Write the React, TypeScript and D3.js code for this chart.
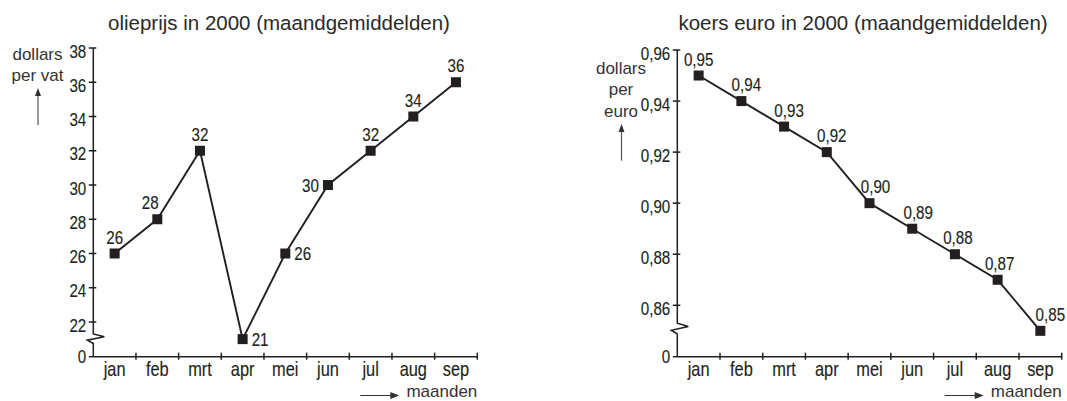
import React from "react";
import * as d3 from "d3";

const months = ["jan", "feb", "mrt", "apr", "mei", "jun", "jul", "aug", "sep"];
const oilPrices = [26, 28, 32, 21, 26, 30, 32, 34, 36];
const euroRates = [0.95, 0.94, 0.93, 0.92, 0.9, 0.89, 0.88, 0.87, 0.85];
const oilTicks = [22, 24, 26, 28, 30, 32, 34, 36, 38];
const euroTicks = [0.86, 0.88, 0.9, 0.92, 0.94, 0.96];
const oilTitle = "olieprijs in 2000 (maandgemiddelden)";
const euroTitle = "koers euro in 2000 (maandgemiddelden)";
const oilUnit = ["dollars", "per vat"];
const euroUnit = ["dollars", "per", "euro"];
const xTitle = "maanden";

const INK = "#231f20";
const REGULAR = "'Liberation Sans', Arial, sans-serif";
const SQUEEZE = 0.82;

type Side = "top" | "left" | "right";

function NarrowText(props: {
  x: number;
  y: number;
  size: number;
  anchor?: "start" | "middle" | "end";
  dy?: string;
  children: React.ReactNode;
}) {
  return (
    <text
      transform={`translate(${props.x},${props.y}) scale(${SQUEEZE},1)`}
      dy={props.dy}
      textAnchor={props.anchor || "middle"}
      fontFamily={REGULAR}
      fontSize={props.size}
      fill={INK}
      stroke={INK}
      strokeWidth={0.15}
    >
      {props.children}
    </text>
  );
}

interface PanelProps {
  values: number[];
  ticks: number[];
  fmt: (v: number) => string;
  x0: number;
  x1: number;
  yDomain: [number, number];
  yRange: [number, number];
  zeroY: number;
  breakTop: number;
  breakBottom: number;
  title: string;
  titleX: number;
  unit: string[];
  unitX: number;
  unitY0: number;
  unitArrow: [number, number];
  sides: Side[];
  dxs: number[];
}

function Panel(p: PanelProps) {
  const x = d3.scaleBand<string>().domain(months).range([p.x0, p.x1]).padding(0);
  const y = d3.scaleLinear().domain(p.yDomain).range(p.yRange);
  const cx = (m: string) => (x(m) as number) + x.bandwidth() / 2;
  const line = d3
    .line<number>()
    .x((_, i) => cx(months[i]))
    .y((d) => y(d));
  const topY = y(p.ticks[p.ticks.length - 1]);
  const bt = p.breakTop;
  const bb = p.breakBottom;
  const bh = bb - bt;
  const axisPath =
    `M${p.x0},${topY}V${bt}` +
    `L${p.x0 + 11},${bt + bh * 0.3}L${p.x0 - 6},${bt + bh * 0.65}L${p.x0},${bb}V${p.zeroY}`;
  const boundaries = d3.range(1, months.length + 1).map((i) => p.x0 + i * x.bandwidth());
  const endX = p.x1;
  return (
    <g>
      <text x={p.titleX} y={30} textAnchor="middle" fontFamily={REGULAR} fontSize={20.5} fill="#2a2a2a">
        {p.title}
      </text>
      {p.unit.map((u, i) => (
        <text key={u} x={p.unitX} y={p.unitY0 + i * 21.7} textAnchor="middle" fontFamily={REGULAR} fontSize={17} fill="#333">
          {u}
        </text>
      ))}
      <line x1={p.unitX + 0.5} x2={p.unitX + 0.5} y1={p.unitArrow[0]} y2={p.unitArrow[1] + 6} stroke="#555" strokeWidth={1.2} />
      <path d={`M${p.unitX + 0.5},${p.unitArrow[1]}l-3,8h6z`} fill="#333" />
      <path d={axisPath} fill="none" stroke={INK} strokeWidth={1.5} />
      <line x1={p.x0} x2={endX} y1={p.zeroY} y2={p.zeroY} stroke={INK} strokeWidth={1.5} />
      {p.ticks.map((t) => (
        <g key={t}>
          <line x1={p.x0 - 4.5} x2={p.x0 + 3} y1={y(t)} y2={y(t)} stroke={INK} strokeWidth={1.5} />
          <NarrowText x={p.x0 - 7} y={y(t)} dy="0.52em" anchor="end" size={18.5}>
            {p.fmt(t)}
          </NarrowText>
        </g>
      ))}
      <line x1={p.x0 - 4.5} x2={p.x0} y1={p.zeroY} y2={p.zeroY} stroke={INK} strokeWidth={1.5} />
      <NarrowText x={p.x0 - 7} y={p.zeroY} dy="0.36em" anchor="end" size={18.5}>
        0
      </NarrowText>
      {boundaries.map((b, i) => (
        <line key={i} x1={b} x2={b} y1={p.zeroY - 4} y2={p.zeroY + 3} stroke={INK} strokeWidth={1.5} />
      ))}
      {months.map((m) => (
        <NarrowText key={m} x={cx(m)} y={376} size={20}>
          {m}
        </NarrowText>
      ))}
      <line x1={endX - 117} x2={endX - 84} y1={395.5} y2={395.5} stroke="#333" strokeWidth={1.2} />
      <path d={`M${endX - 78},395.5l-9,-3.5v7z`} fill="#333" />
      <text x={endX} y={397} textAnchor="end" fontFamily={REGULAR} fontSize={17} fill="#333">
        {xTitle}
      </text>
      <path d={line(p.values) as string} fill="none" stroke={INK} strokeWidth={1.9} />
      {p.values.map((v, i) => {
        const px = cx(months[i]);
        const py = y(v);
        const side = p.sides[i];
        let tx = px + p.dxs[i];
        let ty = py - 10;
        let anchor: "middle" | "start" | "end" = "middle";
        if (side === "right") {
          tx = px + 9;
          ty = py + 6.5;
          anchor = "start";
        } else if (side === "left") {
          tx = px - 9;
          ty = py + 6.5;
          anchor = "end";
        }
        return (
          <g key={i}>
            <rect x={px - 5} y={py - 5} width={10} height={10} fill={INK} />
            <NarrowText x={tx} y={ty} anchor={anchor} size={18.5}>
              {p.fmt(v)}
            </NarrowText>
          </g>
        );
      })}
    </g>
  );
}

const fmtInt = (v: number) => d3.format("d")(v);
const fmtComma = (v: number) => d3.format(".2f")(v).replace(".", ",");

export default function App() {
  return (
    <svg width={1067} height={401} style={{ position: "absolute", left: 0, top: 0, background: "#fff" }}>
      <Panel
        values={oilPrices}
        ticks={oilTicks}
        fmt={fmtInt}
        x0={93.3}
        x1={477.3}
        yDomain={[22, 38]}
        yRange={[322, 48]}
        zeroY={356.7}
        breakTop={334}
        breakBottom={343.5}
        title={oilTitle}
        titleX={279}
        unit={oilUnit}
        unitX={37.5}
        unitY0={59.5}
        unitArrow={[125, 88]}
        sides={["top", "top", "top", "right", "right", "left", "top", "top", "top"]}
        dxs={[0, -7, 0, 0, 0, 0, 0, 0, 0]}
      />
      <Panel
        values={euroRates}
        ticks={euroTicks}
        fmt={fmtComma}
        x0={677.3}
        x1={1061.7}
        yDomain={[0.86, 0.96]}
        yRange={[305.3, 50]}
        zeroY={356.7}
        breakTop={323.3}
        breakBottom={334}
        title={euroTitle}
        titleX={863}
        unit={euroUnit}
        unitX={621}
        unitY0={73.5}
        unitArrow={[160.7, 124]}
        sides={["top", "top", "top", "top", "top", "top", "top", "top", "top"]}
        dxs={[0, 5, 5, 5, 6, 6, 3, 2, 10]}
      />
    </svg>
  );
}
